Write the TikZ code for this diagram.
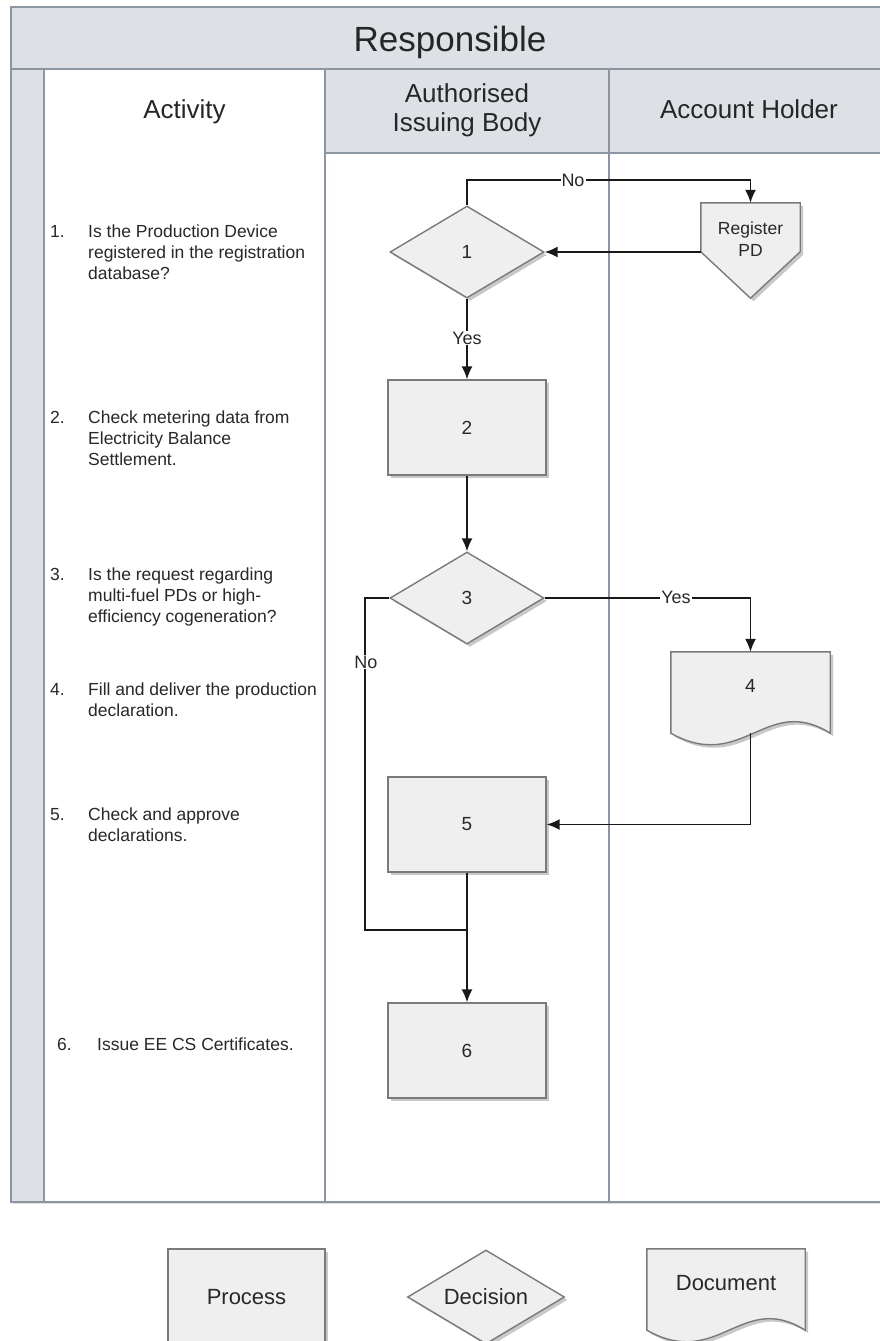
\documentclass[tikz,border=0pt]{standalone}
\usepackage{fontspec}
\setmainfont{Liberation Sans}
\usetikzlibrary{shapes.geometric,arrows.meta,shadows,calc}
\definecolor{hdr}{RGB}{221,225,230}
\definecolor{lane}{RGB}{140,150,162}
\definecolor{nodefill}{RGB}{239,239,239}
\definecolor{nodeline}{RGB}{122,122,122}
\definecolor{connc}{RGB}{25,25,25}
\definecolor{txt}{RGB}{40,40,40}
\pgfdeclarelayer{back}
\pgfdeclarelayer{bg}
\pgfsetlayers{back,bg,main}
\newcommand{\DocOutline}[1]{%
  \path[shapeline] (#1.north west) -- (#1.north east) -- (#1.south east)
    .. controls ($(#1.south west)!0.6!(#1.south east)+(0,-40)$) and ($(#1.south west)!0.45!(#1.south east)+(0,40)$) .. (#1.south west) -- cycle;}
\begin{document}
\begin{tikzpicture}[x=1pt,y=-1pt,
  shd/.style={drop shadow={shadow xshift=3pt,shadow yshift=-3pt,opacity=0.3,fill=black!70}},
  shapeline/.style={fill=nodefill,draw=nodeline,line width=1.4pt,shd},
  procbox/.style={rectangle,draw=nodeline,fill=nodefill,line width=1.4pt,minimum width=158pt,minimum height=95pt,inner sep=0pt,shd,text=txt,font=\fontsize{19}{23}\selectfont},
  decbox/.style={diamond,draw=nodeline,fill=nodefill,line width=1.4pt,minimum width=154pt,minimum height=92pt,aspect=1.67,inner sep=0pt,shd,text=txt,font=\fontsize{19}{23}\selectfont},
  ghost/.style={rectangle,draw=none,inner sep=0pt,text=txt},
  lanecell/.style={fill=hdr,draw=lane,line width=1.5pt},
  laneline/.style={draw=lane,line width=1.5pt},
  connl/.style={draw=connc,line width=1.5pt},
  arr/.style={connl,-{Latex[length=13pt,width=11pt]}},
  lbl/.style={fill=white,inner sep=1pt,text=txt,font=\fontsize{18}{20}\selectfont},
  hdtext/.style={inner sep=0pt,text=black!85,font=\fontsize{26}{29}\selectfont},
  itemnum/.style={anchor=north west,inner sep=0pt,text=txt,font=\fontsize{17.5}{21}\selectfont},
  itemtext/.style={anchor=north west,inner sep=0pt,align=left,text=txt,font=\fontsize{17.5}{21}\selectfont},
  legtext/.style={font=\fontsize{22}{26}\selectfont}
]
\useasboundingbox (0,0) rectangle (880,1341);
% ---------- swimlane frame ----------
\begin{pgfonlayer}{back}
  \fill[white, drop shadow={shadow xshift=2pt,shadow yshift=-2pt,opacity=0.25}] (11,7) rectangle (889,1202);
  \path[lanecell] (11,7) rectangle (889,69);
  \path[lanecell] (11,69) rectangle (44,1202);
  \path[lanecell] (325,69) rectangle (609,153);
  \path[lanecell] (609,69) rectangle (889,153);
  \path[laneline] (44,69) -- (44,1202);
  \path[laneline] (325,69) -- (325,1202);
  \path[laneline] (609,69) -- (609,1202);
  \path[laneline] (11,7) rectangle (889,1202);
\end{pgfonlayer}
\node[hdtext,anchor=base,font=\fontsize{35}{40}\selectfont] (hResp) at (450,51) {Responsible};
\node[hdtext,anchor=base] (hAct) at (184.5,118) {Activity};
\node[hdtext,align=center] (hAIB) at (467,110) {Authorised\\Issuing Body};
\node[hdtext,anchor=base] (hAH) at (749,118) {Account Holder};
% ---------- activity list ----------
\node[itemnum] (i1) at (50,225) {1.};
\node[itemtext] (a1) at (88,225) {Is the Production Device\\registered in the registration\\database?};
\node[itemnum] (i2) at (50,411) {2.};
\node[itemtext] (a2) at (88,411) {Check metering data from\\Electricity Balance\\Settlement.};
\node[itemnum] (i3) at (50,568) {3.};
\node[itemtext] (a3) at (88,568) {Is the request regarding\\multi-fuel PDs or high-\\efficiency cogeneration?};
\node[itemnum] (i4) at (50,683) {4.};
\node[itemtext] (a4) at (88,683) {Fill and deliver the production\\declaration.};
\node[itemnum] (i5) at (50,808) {5.};
\node[itemtext] (a5) at (88,808) {Check and approve\\declarations.};
\node[itemnum] (i6) at (57,1038) {6.};
\node[itemtext] (a6) at (97,1038) {Issue EE CS Certificates.};
% ---------- flow nodes ----------
\node[decbox] (n1) at (467,252) {1};
\node[ghost,minimum width=99pt,minimum height=95pt,
      label={[yshift=11pt,align=center,text=txt,font=\fontsize{17.5}{22}\selectfont]center:Register\\PD}] (rpd) at (750.5,250.5) {};
\node[procbox] (n2) at (467,427.5) {2};
\node[decbox] (n3) at (467,598) {3};
\node[ghost,minimum width=159pt,minimum height=81pt,
      label={[yshift=7pt,text=txt,font=\fontsize{19}{23}\selectfont]center:4}] (d4) at (750.5,692.5) {};
\node[procbox] (n5) at (467,824.5) {5};
\node[procbox] (n6) at (467,1050.5) {6};
\begin{pgfonlayer}{bg}
  \path[shapeline] (rpd.north west) -- (rpd.north east) -- ($(rpd.north east)+(0,49)$) -- (rpd.south) -- ($(rpd.north west)+(0,49)$) -- cycle;
  \DocOutline{d4}
\end{pgfonlayer}
% ---------- connectors ----------
\coordinate (noY) at (467,180);
\draw[arr] (n1.north) -- (n1.north |- noY) -| (rpd.north);
\node[lbl] (lNo1) at (573,180) {No};
\draw[arr] (rpd.west |- n1.east) -- (n1.east);
\draw[arr] (n1.south) -- (n2.north);
\node[lbl] (lYes1) at (467,338) {Yes};
\draw[arr] (n2.south) -- (n3.north);
\draw[arr] (n3.east) -| (d4.north);
\node[lbl] (lYes3) at (676,597) {Yes};
\draw[arr] (d4.south) |- (n5.east);
\coordinate (noC) at (365,930);
\draw[connl] (n3.west) -| (noC) -- (noC -| n5.south);
\node[lbl] (lNo3) at (366,662) {No};
\draw[arr] (n5.south) -- (n6.north);
% ---------- legend ----------
\node[procbox,minimum width=157pt,minimum height=96pt,legtext] (lgP) at (246.5,1297) {Process};
\node[decbox,minimum width=157pt,minimum height=94pt,legtext] (lgD) at (486,1297) {Decision};
\node[ghost,minimum width=158pt,minimum height=81pt,
      label={[yshift=6pt,text=txt,legtext]center:Document}] (lgDoc) at (726,1289.5) {};
\begin{pgfonlayer}{bg}
  \DocOutline{lgDoc}
\end{pgfonlayer}
\end{tikzpicture}
\end{document}
